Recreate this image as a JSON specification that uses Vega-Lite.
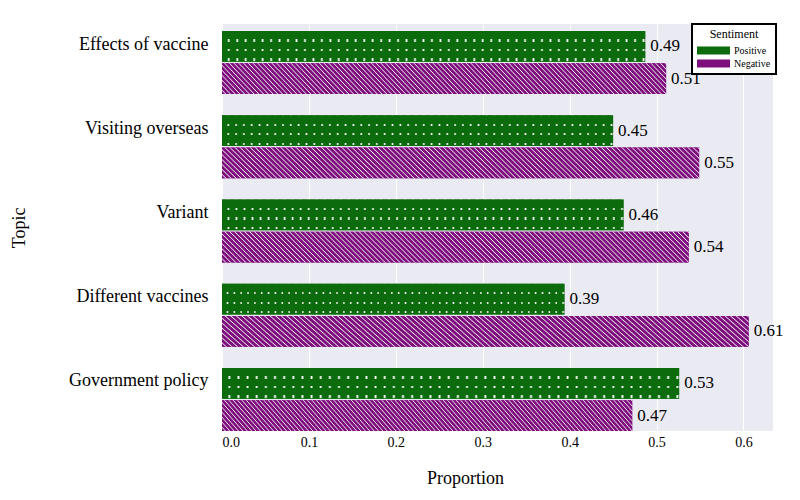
{
"$schema":"https://vega.github.io/schema/vega-lite/v6.json",
"width":551,"height":407,
"autosize":{"type":"none"},
"padding":{"left":222,"top":24,"right":27,"bottom":69},
"background":"white",
"config":{"view":{"fill":"#EAEAF2","stroke":null},"font":"Liberation Serif"},
"data":{"values":[
{"Topic":"Effects of vaccine","Sentiment":"Positive","value":0.487},
{"Topic":"Effects of vaccine","Sentiment":"Negative","value":0.511},
{"Topic":"Visiting overseas","Sentiment":"Positive","value":0.450},
{"Topic":"Visiting overseas","Sentiment":"Negative","value":0.549},
{"Topic":"Variant","Sentiment":"Positive","value":0.462},
{"Topic":"Variant","Sentiment":"Negative","value":0.537},
{"Topic":"Different vaccines","Sentiment":"Positive","value":0.394},
{"Topic":"Different vaccines","Sentiment":"Negative","value":0.606},
{"Topic":"Government policy","Sentiment":"Positive","value":0.526},
{"Topic":"Government policy","Sentiment":"Negative","value":0.472}
]},
"encoding":{
"y":{"field":"Topic","type":"nominal","sort":["Effects of vaccine","Visiting overseas","Variant","Different vaccines","Government policy"],
"scale":{"paddingInner":0.252,"paddingOuter":0.0415,"align":1},
"axis":{"title":"Topic","titleFontSize":18,"titleFontWeight":"normal","titleColor":"black","labelFontSize":18,"labelColor":"black","labelPadding":14,"labelOffset":-18,"ticks":false,"domain":false,"grid":false,"titlePadding":40}},
"x":{"field":"value","type":"quantitative","scale":{"domain":[0,0.634],"nice":false,"zero":true},
"axis":{"title":"Proportion","values":[0,0.1,0.2,0.3,0.4,0.5,0.6],"format":".1f","labelFontSize":14,"labelColor":"black","ticks":false,"domain":false,"grid":true,"gridColor":"white","gridWidth":1,"gridOpacity":1,"labelPadding":4,"titlePadding":20,"titleFontSize":18,"titleFontWeight":"normal","titleColor":"black","titleX":243}},
"yOffset":{"field":"Sentiment","type":"nominal","scale":{"domain":["Positive","Negative"],"paddingInner":0.04,"paddingOuter":0}}
},
"layer":[
{"mark":{"type":"bar"},
"encoding":{
"color":{"field":"Sentiment","type":"nominal","scale":{"domain":["Positive","Negative"],"range":["#0c6b0c","#7d0f7d"]},
"legend":{"orient":"none","legendX":470,"legendY":0,"title":"Sentiment","titleFontSize":12,"titleFontWeight":"normal","titleColor":"black","titleAnchor":"middle","labelFontSize":10,"labelColor":"black","symbolType":"M-1,-0.615H4.08V0.615H-1Z","symbolSize":169,"symbolStrokeWidth":0,"symbolOpacity":1,"strokeColor":"black","fillColor":"white","padding":5,"rowPadding":1,"labelOffset":24,"titlePadding":3,
"encode":{"legend":{"update":{"strokeWidth":{"value":2}}}}}}
}},
{"transform":[{"filter":"datum.Sentiment === 'Positive'"}],
"mark":{"type":"bar","fill":{"gradient":"linear","x1":0,"y1":0,"x2":1,"y2":0,"stops":[
{"offset":0,"color":"rgba(255,255,255,0)"},
{"offset":0.012,"color":"rgba(255,255,255,0)"},{"offset":0.016,"color":"#ffffff"},{"offset":0.02,"color":"rgba(255,255,255,0)"},
{"offset":0.032,"color":"rgba(255,255,255,0)"},{"offset":0.036,"color":"#ffffff"},{"offset":0.04,"color":"rgba(255,255,255,0)"},
{"offset":0.052,"color":"rgba(255,255,255,0)"},{"offset":0.056,"color":"#ffffff"},{"offset":0.06,"color":"rgba(255,255,255,0)"},
{"offset":0.072,"color":"rgba(255,255,255,0)"},{"offset":0.076,"color":"#ffffff"},{"offset":0.08,"color":"rgba(255,255,255,0)"},
{"offset":0.092,"color":"rgba(255,255,255,0)"},{"offset":0.096,"color":"#ffffff"},{"offset":0.10,"color":"rgba(255,255,255,0)"},
{"offset":0.112,"color":"rgba(255,255,255,0)"},{"offset":0.116,"color":"#ffffff"},{"offset":0.12,"color":"rgba(255,255,255,0)"},
{"offset":0.132,"color":"rgba(255,255,255,0)"},{"offset":0.136,"color":"#ffffff"},{"offset":0.14,"color":"rgba(255,255,255,0)"},
{"offset":0.152,"color":"rgba(255,255,255,0)"},{"offset":0.156,"color":"#ffffff"},{"offset":0.16,"color":"rgba(255,255,255,0)"},
{"offset":0.172,"color":"rgba(255,255,255,0)"},{"offset":0.176,"color":"#ffffff"},{"offset":0.18,"color":"rgba(255,255,255,0)"},
{"offset":0.192,"color":"rgba(255,255,255,0)"},{"offset":0.196,"color":"#ffffff"},{"offset":0.20,"color":"rgba(255,255,255,0)"},
{"offset":0.212,"color":"rgba(255,255,255,0)"},{"offset":0.216,"color":"#ffffff"},{"offset":0.22,"color":"rgba(255,255,255,0)"},
{"offset":0.232,"color":"rgba(255,255,255,0)"},{"offset":0.236,"color":"#ffffff"},{"offset":0.24,"color":"rgba(255,255,255,0)"},
{"offset":0.252,"color":"rgba(255,255,255,0)"},{"offset":0.256,"color":"#ffffff"},{"offset":0.26,"color":"rgba(255,255,255,0)"},
{"offset":0.272,"color":"rgba(255,255,255,0)"},{"offset":0.276,"color":"#ffffff"},{"offset":0.28,"color":"rgba(255,255,255,0)"},
{"offset":0.292,"color":"rgba(255,255,255,0)"},{"offset":0.296,"color":"#ffffff"},{"offset":0.30,"color":"rgba(255,255,255,0)"},
{"offset":0.312,"color":"rgba(255,255,255,0)"},{"offset":0.316,"color":"#ffffff"},{"offset":0.32,"color":"rgba(255,255,255,0)"},
{"offset":0.332,"color":"rgba(255,255,255,0)"},{"offset":0.336,"color":"#ffffff"},{"offset":0.34,"color":"rgba(255,255,255,0)"},
{"offset":0.352,"color":"rgba(255,255,255,0)"},{"offset":0.356,"color":"#ffffff"},{"offset":0.36,"color":"rgba(255,255,255,0)"},
{"offset":0.372,"color":"rgba(255,255,255,0)"},{"offset":0.376,"color":"#ffffff"},{"offset":0.38,"color":"rgba(255,255,255,0)"},
{"offset":0.392,"color":"rgba(255,255,255,0)"},{"offset":0.396,"color":"#ffffff"},{"offset":0.40,"color":"rgba(255,255,255,0)"},
{"offset":0.412,"color":"rgba(255,255,255,0)"},{"offset":0.416,"color":"#ffffff"},{"offset":0.42,"color":"rgba(255,255,255,0)"},
{"offset":0.432,"color":"rgba(255,255,255,0)"},{"offset":0.436,"color":"#ffffff"},{"offset":0.44,"color":"rgba(255,255,255,0)"},
{"offset":0.452,"color":"rgba(255,255,255,0)"},{"offset":0.456,"color":"#ffffff"},{"offset":0.46,"color":"rgba(255,255,255,0)"},
{"offset":0.472,"color":"rgba(255,255,255,0)"},{"offset":0.476,"color":"#ffffff"},{"offset":0.48,"color":"rgba(255,255,255,0)"},
{"offset":0.492,"color":"rgba(255,255,255,0)"},{"offset":0.496,"color":"#ffffff"},{"offset":0.50,"color":"rgba(255,255,255,0)"},
{"offset":0.512,"color":"rgba(255,255,255,0)"},{"offset":0.516,"color":"#ffffff"},{"offset":0.52,"color":"rgba(255,255,255,0)"},
{"offset":0.532,"color":"rgba(255,255,255,0)"},{"offset":0.536,"color":"#ffffff"},{"offset":0.54,"color":"rgba(255,255,255,0)"},
{"offset":0.552,"color":"rgba(255,255,255,0)"},{"offset":0.556,"color":"#ffffff"},{"offset":0.56,"color":"rgba(255,255,255,0)"},
{"offset":0.572,"color":"rgba(255,255,255,0)"},{"offset":0.576,"color":"#ffffff"},{"offset":0.58,"color":"rgba(255,255,255,0)"},
{"offset":0.592,"color":"rgba(255,255,255,0)"},{"offset":0.596,"color":"#ffffff"},{"offset":0.60,"color":"rgba(255,255,255,0)"},
{"offset":0.612,"color":"rgba(255,255,255,0)"},{"offset":0.616,"color":"#ffffff"},{"offset":0.62,"color":"rgba(255,255,255,0)"},
{"offset":0.632,"color":"rgba(255,255,255,0)"},{"offset":0.636,"color":"#ffffff"},{"offset":0.64,"color":"rgba(255,255,255,0)"},
{"offset":0.652,"color":"rgba(255,255,255,0)"},{"offset":0.656,"color":"#ffffff"},{"offset":0.66,"color":"rgba(255,255,255,0)"},
{"offset":0.672,"color":"rgba(255,255,255,0)"},{"offset":0.676,"color":"#ffffff"},{"offset":0.68,"color":"rgba(255,255,255,0)"},
{"offset":0.692,"color":"rgba(255,255,255,0)"},{"offset":0.696,"color":"#ffffff"},{"offset":0.70,"color":"rgba(255,255,255,0)"},
{"offset":0.712,"color":"rgba(255,255,255,0)"},{"offset":0.716,"color":"#ffffff"},{"offset":0.72,"color":"rgba(255,255,255,0)"},
{"offset":0.732,"color":"rgba(255,255,255,0)"},{"offset":0.736,"color":"#ffffff"},{"offset":0.74,"color":"rgba(255,255,255,0)"},
{"offset":0.752,"color":"rgba(255,255,255,0)"},{"offset":0.756,"color":"#ffffff"},{"offset":0.76,"color":"rgba(255,255,255,0)"},
{"offset":0.772,"color":"rgba(255,255,255,0)"},{"offset":0.776,"color":"#ffffff"},{"offset":0.78,"color":"rgba(255,255,255,0)"},
{"offset":0.792,"color":"rgba(255,255,255,0)"},{"offset":0.796,"color":"#ffffff"},{"offset":0.80,"color":"rgba(255,255,255,0)"},
{"offset":0.812,"color":"rgba(255,255,255,0)"},{"offset":0.816,"color":"#ffffff"},{"offset":0.82,"color":"rgba(255,255,255,0)"},
{"offset":0.832,"color":"rgba(255,255,255,0)"},{"offset":0.836,"color":"#ffffff"},{"offset":0.84,"color":"rgba(255,255,255,0)"},
{"offset":0.852,"color":"rgba(255,255,255,0)"},{"offset":0.856,"color":"#ffffff"},{"offset":0.86,"color":"rgba(255,255,255,0)"},
{"offset":0.872,"color":"rgba(255,255,255,0)"},{"offset":0.876,"color":"#ffffff"},{"offset":0.88,"color":"rgba(255,255,255,0)"},
{"offset":0.892,"color":"rgba(255,255,255,0)"},{"offset":0.896,"color":"#ffffff"},{"offset":0.90,"color":"rgba(255,255,255,0)"},
{"offset":0.912,"color":"rgba(255,255,255,0)"},{"offset":0.916,"color":"#ffffff"},{"offset":0.92,"color":"rgba(255,255,255,0)"},
{"offset":0.932,"color":"rgba(255,255,255,0)"},{"offset":0.936,"color":"#ffffff"},{"offset":0.94,"color":"rgba(255,255,255,0)"},
{"offset":0.952,"color":"rgba(255,255,255,0)"},{"offset":0.956,"color":"#ffffff"},{"offset":0.96,"color":"rgba(255,255,255,0)"},
{"offset":0.972,"color":"rgba(255,255,255,0)"},{"offset":0.976,"color":"#ffffff"},{"offset":0.98,"color":"rgba(255,255,255,0)"},
{"offset":0.992,"color":"rgba(255,255,255,0)"},{"offset":0.996,"color":"#ffffff"},{"offset":1,"color":"rgba(255,255,255,0)"}
]}}},
{"transform":[{"filter":"datum.Sentiment === 'Positive'"}],
"mark":{"type":"bar","fill":{"gradient":"linear","x1":0,"y1":0,"x2":0,"y2":1,"stops":[
{"offset":0,"color":"#0c6b0c"},{"offset":0.272,"color":"#0c6b0c"},{"offset":0.272,"color":"rgba(12,107,12,0)"},{"offset":0.343,"color":"rgba(12,107,12,0)"},
{"offset":0.343,"color":"#0c6b0c"},{"offset":0.579,"color":"#0c6b0c"},{"offset":0.579,"color":"rgba(12,107,12,0)"},{"offset":0.650,"color":"rgba(12,107,12,0)"},
{"offset":0.650,"color":"#0c6b0c"},{"offset":0.887,"color":"#0c6b0c"},{"offset":0.887,"color":"rgba(12,107,12,0)"},{"offset":0.958,"color":"rgba(12,107,12,0)"},
{"offset":0.958,"color":"#0c6b0c"},{"offset":1,"color":"#0c6b0c"}
]}}},
{"transform":[{"filter":"datum.Sentiment === 'Negative'"}],
"mark":{"type":"bar","fill":{"gradient":"linear","x1":0,"y1":1,"x2":1.0618,"y2":0.9294,"stops":[
{"offset":0.00,"color":"#7d0f7d"},{"offset":0.0055,"color":"#7d0f7d"},{"offset":0.0078,"color":"#f0e2f0"},
{"offset":0.01,"color":"#7d0f7d"},{"offset":0.0155,"color":"#7d0f7d"},{"offset":0.0178,"color":"#f0e2f0"},
{"offset":0.02,"color":"#7d0f7d"},{"offset":0.0255,"color":"#7d0f7d"},{"offset":0.0278,"color":"#f0e2f0"},
{"offset":0.03,"color":"#7d0f7d"},{"offset":0.0355,"color":"#7d0f7d"},{"offset":0.0378,"color":"#f0e2f0"},
{"offset":0.04,"color":"#7d0f7d"},{"offset":0.0455,"color":"#7d0f7d"},{"offset":0.0478,"color":"#f0e2f0"},
{"offset":0.05,"color":"#7d0f7d"},{"offset":0.0555,"color":"#7d0f7d"},{"offset":0.0578,"color":"#f0e2f0"},
{"offset":0.06,"color":"#7d0f7d"},{"offset":0.0655,"color":"#7d0f7d"},{"offset":0.0678,"color":"#f0e2f0"},
{"offset":0.07,"color":"#7d0f7d"},{"offset":0.0755,"color":"#7d0f7d"},{"offset":0.0778,"color":"#f0e2f0"},
{"offset":0.08,"color":"#7d0f7d"},{"offset":0.0855,"color":"#7d0f7d"},{"offset":0.0878,"color":"#f0e2f0"},
{"offset":0.09,"color":"#7d0f7d"},{"offset":0.0955,"color":"#7d0f7d"},{"offset":0.0978,"color":"#f0e2f0"},
{"offset":0.10,"color":"#7d0f7d"},{"offset":0.1055,"color":"#7d0f7d"},{"offset":0.1078,"color":"#f0e2f0"},
{"offset":0.11,"color":"#7d0f7d"},{"offset":0.1155,"color":"#7d0f7d"},{"offset":0.1178,"color":"#f0e2f0"},
{"offset":0.12,"color":"#7d0f7d"},{"offset":0.1255,"color":"#7d0f7d"},{"offset":0.1278,"color":"#f0e2f0"},
{"offset":0.13,"color":"#7d0f7d"},{"offset":0.1355,"color":"#7d0f7d"},{"offset":0.1378,"color":"#f0e2f0"},
{"offset":0.14,"color":"#7d0f7d"},{"offset":0.1455,"color":"#7d0f7d"},{"offset":0.1478,"color":"#f0e2f0"},
{"offset":0.15,"color":"#7d0f7d"},{"offset":0.1555,"color":"#7d0f7d"},{"offset":0.1578,"color":"#f0e2f0"},
{"offset":0.16,"color":"#7d0f7d"},{"offset":0.1655,"color":"#7d0f7d"},{"offset":0.1678,"color":"#f0e2f0"},
{"offset":0.17,"color":"#7d0f7d"},{"offset":0.1755,"color":"#7d0f7d"},{"offset":0.1778,"color":"#f0e2f0"},
{"offset":0.18,"color":"#7d0f7d"},{"offset":0.1855,"color":"#7d0f7d"},{"offset":0.1878,"color":"#f0e2f0"},
{"offset":0.19,"color":"#7d0f7d"},{"offset":0.1955,"color":"#7d0f7d"},{"offset":0.1978,"color":"#f0e2f0"},
{"offset":0.20,"color":"#7d0f7d"},{"offset":0.2055,"color":"#7d0f7d"},{"offset":0.2078,"color":"#f0e2f0"},
{"offset":0.21,"color":"#7d0f7d"},{"offset":0.2155,"color":"#7d0f7d"},{"offset":0.2178,"color":"#f0e2f0"},
{"offset":0.22,"color":"#7d0f7d"},{"offset":0.2255,"color":"#7d0f7d"},{"offset":0.2278,"color":"#f0e2f0"},
{"offset":0.23,"color":"#7d0f7d"},{"offset":0.2355,"color":"#7d0f7d"},{"offset":0.2378,"color":"#f0e2f0"},
{"offset":0.24,"color":"#7d0f7d"},{"offset":0.2455,"color":"#7d0f7d"},{"offset":0.2478,"color":"#f0e2f0"},
{"offset":0.25,"color":"#7d0f7d"},{"offset":0.2555,"color":"#7d0f7d"},{"offset":0.2578,"color":"#f0e2f0"},
{"offset":0.26,"color":"#7d0f7d"},{"offset":0.2655,"color":"#7d0f7d"},{"offset":0.2678,"color":"#f0e2f0"},
{"offset":0.27,"color":"#7d0f7d"},{"offset":0.2755,"color":"#7d0f7d"},{"offset":0.2778,"color":"#f0e2f0"},
{"offset":0.28,"color":"#7d0f7d"},{"offset":0.2855,"color":"#7d0f7d"},{"offset":0.2878,"color":"#f0e2f0"},
{"offset":0.29,"color":"#7d0f7d"},{"offset":0.2955,"color":"#7d0f7d"},{"offset":0.2978,"color":"#f0e2f0"},
{"offset":0.30,"color":"#7d0f7d"},{"offset":0.3055,"color":"#7d0f7d"},{"offset":0.3078,"color":"#f0e2f0"},
{"offset":0.31,"color":"#7d0f7d"},{"offset":0.3155,"color":"#7d0f7d"},{"offset":0.3178,"color":"#f0e2f0"},
{"offset":0.32,"color":"#7d0f7d"},{"offset":0.3255,"color":"#7d0f7d"},{"offset":0.3278,"color":"#f0e2f0"},
{"offset":0.33,"color":"#7d0f7d"},{"offset":0.3355,"color":"#7d0f7d"},{"offset":0.3378,"color":"#f0e2f0"},
{"offset":0.34,"color":"#7d0f7d"},{"offset":0.3455,"color":"#7d0f7d"},{"offset":0.3478,"color":"#f0e2f0"},
{"offset":0.35,"color":"#7d0f7d"},{"offset":0.3555,"color":"#7d0f7d"},{"offset":0.3578,"color":"#f0e2f0"},
{"offset":0.36,"color":"#7d0f7d"},{"offset":0.3655,"color":"#7d0f7d"},{"offset":0.3678,"color":"#f0e2f0"},
{"offset":0.37,"color":"#7d0f7d"},{"offset":0.3755,"color":"#7d0f7d"},{"offset":0.3778,"color":"#f0e2f0"},
{"offset":0.38,"color":"#7d0f7d"},{"offset":0.3855,"color":"#7d0f7d"},{"offset":0.3878,"color":"#f0e2f0"},
{"offset":0.39,"color":"#7d0f7d"},{"offset":0.3955,"color":"#7d0f7d"},{"offset":0.3978,"color":"#f0e2f0"},
{"offset":0.40,"color":"#7d0f7d"},{"offset":0.4055,"color":"#7d0f7d"},{"offset":0.4078,"color":"#f0e2f0"},
{"offset":0.41,"color":"#7d0f7d"},{"offset":0.4155,"color":"#7d0f7d"},{"offset":0.4178,"color":"#f0e2f0"},
{"offset":0.42,"color":"#7d0f7d"},{"offset":0.4255,"color":"#7d0f7d"},{"offset":0.4278,"color":"#f0e2f0"},
{"offset":0.43,"color":"#7d0f7d"},{"offset":0.4355,"color":"#7d0f7d"},{"offset":0.4378,"color":"#f0e2f0"},
{"offset":0.44,"color":"#7d0f7d"},{"offset":0.4455,"color":"#7d0f7d"},{"offset":0.4478,"color":"#f0e2f0"},
{"offset":0.45,"color":"#7d0f7d"},{"offset":0.4555,"color":"#7d0f7d"},{"offset":0.4578,"color":"#f0e2f0"},
{"offset":0.46,"color":"#7d0f7d"},{"offset":0.4655,"color":"#7d0f7d"},{"offset":0.4678,"color":"#f0e2f0"},
{"offset":0.47,"color":"#7d0f7d"},{"offset":0.4755,"color":"#7d0f7d"},{"offset":0.4778,"color":"#f0e2f0"},
{"offset":0.48,"color":"#7d0f7d"},{"offset":0.4855,"color":"#7d0f7d"},{"offset":0.4878,"color":"#f0e2f0"},
{"offset":0.49,"color":"#7d0f7d"},{"offset":0.4955,"color":"#7d0f7d"},{"offset":0.4978,"color":"#f0e2f0"},
{"offset":0.50,"color":"#7d0f7d"},{"offset":0.5055,"color":"#7d0f7d"},{"offset":0.5078,"color":"#f0e2f0"},
{"offset":0.51,"color":"#7d0f7d"},{"offset":0.5155,"color":"#7d0f7d"},{"offset":0.5178,"color":"#f0e2f0"},
{"offset":0.52,"color":"#7d0f7d"},{"offset":0.5255,"color":"#7d0f7d"},{"offset":0.5278,"color":"#f0e2f0"},
{"offset":0.53,"color":"#7d0f7d"},{"offset":0.5355,"color":"#7d0f7d"},{"offset":0.5378,"color":"#f0e2f0"},
{"offset":0.54,"color":"#7d0f7d"},{"offset":0.5455,"color":"#7d0f7d"},{"offset":0.5478,"color":"#f0e2f0"},
{"offset":0.55,"color":"#7d0f7d"},{"offset":0.5555,"color":"#7d0f7d"},{"offset":0.5578,"color":"#f0e2f0"},
{"offset":0.56,"color":"#7d0f7d"},{"offset":0.5655,"color":"#7d0f7d"},{"offset":0.5678,"color":"#f0e2f0"},
{"offset":0.57,"color":"#7d0f7d"},{"offset":0.5755,"color":"#7d0f7d"},{"offset":0.5778,"color":"#f0e2f0"},
{"offset":0.58,"color":"#7d0f7d"},{"offset":0.5855,"color":"#7d0f7d"},{"offset":0.5878,"color":"#f0e2f0"},
{"offset":0.59,"color":"#7d0f7d"},{"offset":0.5955,"color":"#7d0f7d"},{"offset":0.5978,"color":"#f0e2f0"},
{"offset":0.60,"color":"#7d0f7d"},{"offset":0.6055,"color":"#7d0f7d"},{"offset":0.6078,"color":"#f0e2f0"},
{"offset":0.61,"color":"#7d0f7d"},{"offset":0.6155,"color":"#7d0f7d"},{"offset":0.6178,"color":"#f0e2f0"},
{"offset":0.62,"color":"#7d0f7d"},{"offset":0.6255,"color":"#7d0f7d"},{"offset":0.6278,"color":"#f0e2f0"},
{"offset":0.63,"color":"#7d0f7d"},{"offset":0.6355,"color":"#7d0f7d"},{"offset":0.6378,"color":"#f0e2f0"},
{"offset":0.64,"color":"#7d0f7d"},{"offset":0.6455,"color":"#7d0f7d"},{"offset":0.6478,"color":"#f0e2f0"},
{"offset":0.65,"color":"#7d0f7d"},{"offset":0.6555,"color":"#7d0f7d"},{"offset":0.6578,"color":"#f0e2f0"},
{"offset":0.66,"color":"#7d0f7d"},{"offset":0.6655,"color":"#7d0f7d"},{"offset":0.6678,"color":"#f0e2f0"},
{"offset":0.67,"color":"#7d0f7d"},{"offset":0.6755,"color":"#7d0f7d"},{"offset":0.6778,"color":"#f0e2f0"},
{"offset":0.68,"color":"#7d0f7d"},{"offset":0.6855,"color":"#7d0f7d"},{"offset":0.6878,"color":"#f0e2f0"},
{"offset":0.69,"color":"#7d0f7d"},{"offset":0.6955,"color":"#7d0f7d"},{"offset":0.6978,"color":"#f0e2f0"},
{"offset":0.70,"color":"#7d0f7d"},{"offset":0.7055,"color":"#7d0f7d"},{"offset":0.7078,"color":"#f0e2f0"},
{"offset":0.71,"color":"#7d0f7d"},{"offset":0.7155,"color":"#7d0f7d"},{"offset":0.7178,"color":"#f0e2f0"},
{"offset":0.72,"color":"#7d0f7d"},{"offset":0.7255,"color":"#7d0f7d"},{"offset":0.7278,"color":"#f0e2f0"},
{"offset":0.73,"color":"#7d0f7d"},{"offset":0.7355,"color":"#7d0f7d"},{"offset":0.7378,"color":"#f0e2f0"},
{"offset":0.74,"color":"#7d0f7d"},{"offset":0.7455,"color":"#7d0f7d"},{"offset":0.7478,"color":"#f0e2f0"},
{"offset":0.75,"color":"#7d0f7d"},{"offset":0.7555,"color":"#7d0f7d"},{"offset":0.7578,"color":"#f0e2f0"},
{"offset":0.76,"color":"#7d0f7d"},{"offset":0.7655,"color":"#7d0f7d"},{"offset":0.7678,"color":"#f0e2f0"},
{"offset":0.77,"color":"#7d0f7d"},{"offset":0.7755,"color":"#7d0f7d"},{"offset":0.7778,"color":"#f0e2f0"},
{"offset":0.78,"color":"#7d0f7d"},{"offset":0.7855,"color":"#7d0f7d"},{"offset":0.7878,"color":"#f0e2f0"},
{"offset":0.79,"color":"#7d0f7d"},{"offset":0.7955,"color":"#7d0f7d"},{"offset":0.7978,"color":"#f0e2f0"},
{"offset":0.80,"color":"#7d0f7d"},{"offset":0.8055,"color":"#7d0f7d"},{"offset":0.8078,"color":"#f0e2f0"},
{"offset":0.81,"color":"#7d0f7d"},{"offset":0.8155,"color":"#7d0f7d"},{"offset":0.8178,"color":"#f0e2f0"},
{"offset":0.82,"color":"#7d0f7d"},{"offset":0.8255,"color":"#7d0f7d"},{"offset":0.8278,"color":"#f0e2f0"},
{"offset":0.83,"color":"#7d0f7d"},{"offset":0.8355,"color":"#7d0f7d"},{"offset":0.8378,"color":"#f0e2f0"},
{"offset":0.84,"color":"#7d0f7d"},{"offset":0.8455,"color":"#7d0f7d"},{"offset":0.8478,"color":"#f0e2f0"},
{"offset":0.85,"color":"#7d0f7d"},{"offset":0.8555,"color":"#7d0f7d"},{"offset":0.8578,"color":"#f0e2f0"},
{"offset":0.86,"color":"#7d0f7d"},{"offset":0.8655,"color":"#7d0f7d"},{"offset":0.8678,"color":"#f0e2f0"},
{"offset":0.87,"color":"#7d0f7d"},{"offset":0.8755,"color":"#7d0f7d"},{"offset":0.8778,"color":"#f0e2f0"},
{"offset":0.88,"color":"#7d0f7d"},{"offset":0.8855,"color":"#7d0f7d"},{"offset":0.8878,"color":"#f0e2f0"},
{"offset":0.89,"color":"#7d0f7d"},{"offset":0.8955,"color":"#7d0f7d"},{"offset":0.8978,"color":"#f0e2f0"},
{"offset":0.90,"color":"#7d0f7d"},{"offset":0.9055,"color":"#7d0f7d"},{"offset":0.9078,"color":"#f0e2f0"},
{"offset":0.91,"color":"#7d0f7d"},{"offset":0.9155,"color":"#7d0f7d"},{"offset":0.9178,"color":"#f0e2f0"},
{"offset":0.92,"color":"#7d0f7d"},{"offset":0.9255,"color":"#7d0f7d"},{"offset":0.9278,"color":"#f0e2f0"},
{"offset":0.93,"color":"#7d0f7d"},{"offset":0.9355,"color":"#7d0f7d"},{"offset":0.9378,"color":"#f0e2f0"},
{"offset":0.94,"color":"#7d0f7d"},{"offset":0.9455,"color":"#7d0f7d"},{"offset":0.9478,"color":"#f0e2f0"},
{"offset":0.95,"color":"#7d0f7d"},{"offset":0.9555,"color":"#7d0f7d"},{"offset":0.9578,"color":"#f0e2f0"},
{"offset":0.96,"color":"#7d0f7d"},{"offset":0.9655,"color":"#7d0f7d"},{"offset":0.9678,"color":"#f0e2f0"},
{"offset":0.97,"color":"#7d0f7d"},{"offset":0.9755,"color":"#7d0f7d"},{"offset":0.9778,"color":"#f0e2f0"},
{"offset":0.98,"color":"#7d0f7d"},{"offset":0.9855,"color":"#7d0f7d"},{"offset":0.9878,"color":"#f0e2f0"},
{"offset":0.99,"color":"#7d0f7d"},{"offset":0.9955,"color":"#7d0f7d"},{"offset":0.9978,"color":"#f0e2f0"},
{"offset":1,"color":"#7d0f7d"}
]}}},
{"mark":{"type":"text","align":"left","baseline":"middle","dx":5,"fontSize":17,"color":"black"},
"encoding":{
"text":{"field":"value","type":"quantitative","format":".2f"}
}}
]
}
